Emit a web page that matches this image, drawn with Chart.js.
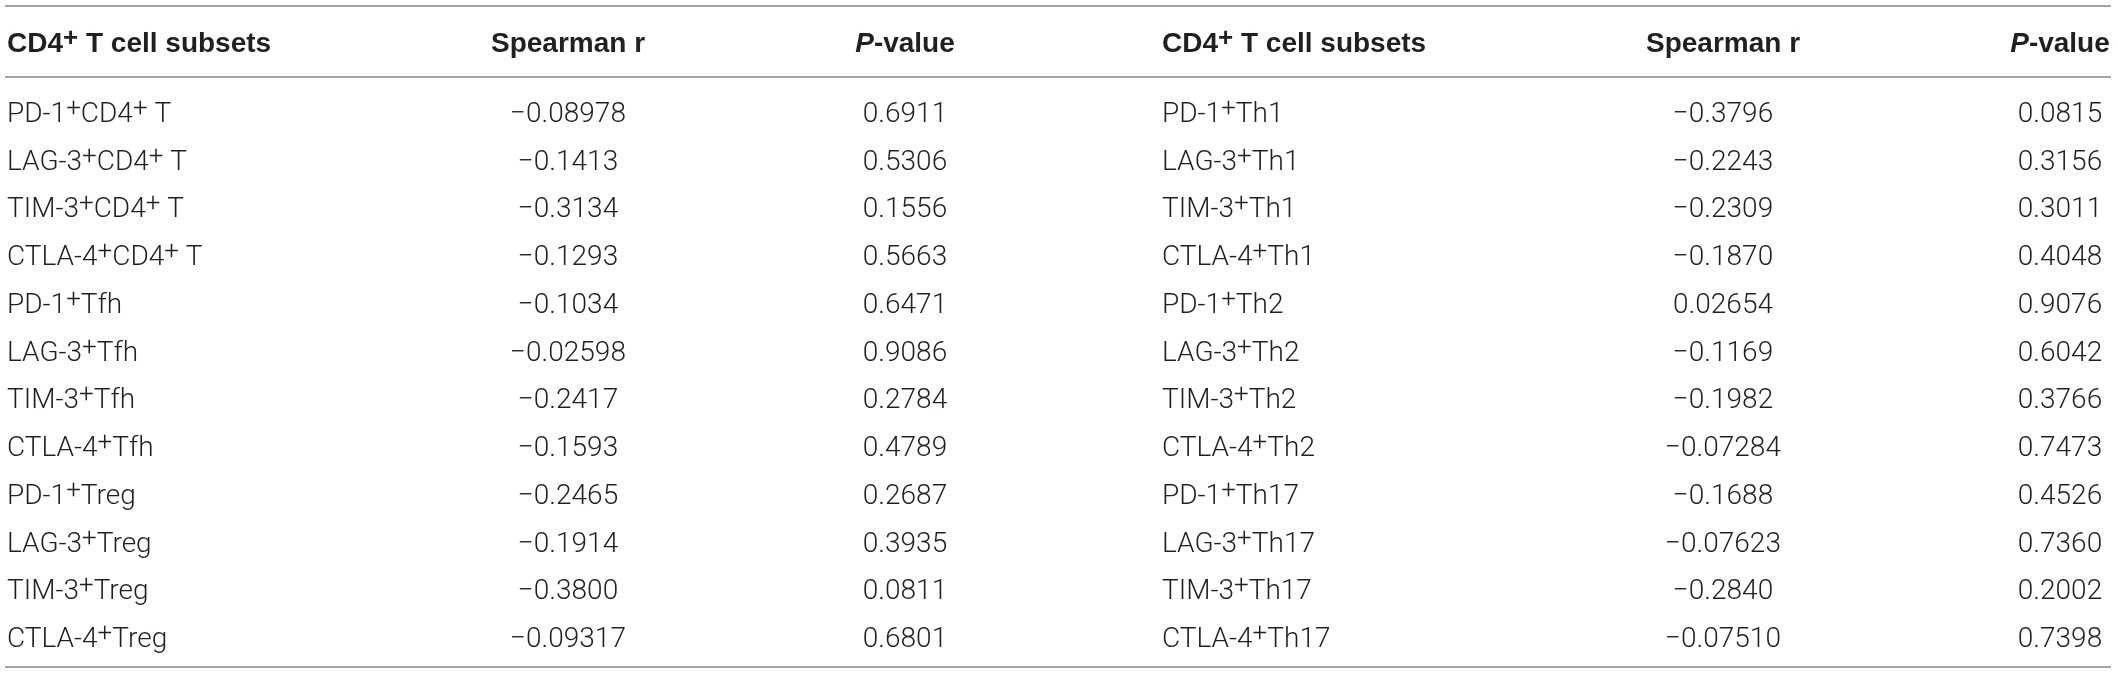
<!DOCTYPE html>
<html>
<head>
<meta charset="utf-8">
<script src="https://cdn.jsdelivr.net/npm/chart.js@4/dist/chart.umd.min.js"></script>
<style>
  html, body { margin: 0; padding: 0; background: #fff; }
  #wrap { width: 2118px; height: 674px; }
</style>
</head>
<body>
<div id="wrap"><canvas id="tabla" width="2118" height="674"></canvas></div>
<script>
// column headers (⁺ is drawn as a raised plus)
var headers = ['CD4⁺ T cell subsets', 'Spearman r', 'P-value'];

// left half of the table
var subsetsLeft = ['PD-1⁺CD4⁺ T', 'LAG-3⁺CD4⁺ T', 'TIM-3⁺CD4⁺ T', 'CTLA-4⁺CD4⁺ T',
  'PD-1⁺Tfh', 'LAG-3⁺Tfh', 'TIM-3⁺Tfh', 'CTLA-4⁺Tfh',
  'PD-1⁺Treg', 'LAG-3⁺Treg', 'TIM-3⁺Treg', 'CTLA-4⁺Treg'];
var spearmanLeft = [-0.08978, -0.1413, -0.3134, -0.1293, -0.1034, -0.02598,
  -0.2417, -0.1593, -0.2465, -0.1914, -0.3800, -0.09317];
var pLeft = [0.6911, 0.5306, 0.1556, 0.5663, 0.6471, 0.9086,
  0.2784, 0.4789, 0.2687, 0.3935, 0.0811, 0.6801];

// right half of the table
var subsetsRight = ['PD-1⁺Th1', 'LAG-3⁺Th1', 'TIM-3⁺Th1', 'CTLA-4⁺Th1',
  'PD-1⁺Th2', 'LAG-3⁺Th2', 'TIM-3⁺Th2', 'CTLA-4⁺Th2',
  'PD-1⁺Th17', 'LAG-3⁺Th17', 'TIM-3⁺Th17', 'CTLA-4⁺Th17'];
var spearmanRight = [-0.3796, -0.2243, -0.2309, -0.1870, 0.02654, -0.1169,
  -0.1982, -0.07284, -0.1688, -0.07623, -0.2840, -0.07510];
var pRight = [0.0815, 0.3156, 0.3011, 0.4048, 0.9076, 0.6042,
  0.3766, 0.7473, 0.4526, 0.7360, 0.2002, 0.7398];

// layout: where each column sits on the x scale and how it is aligned
var colAnchor = [7, 568, 905, 1162, 1723, 2060];
var colAlign  = ['left', 'center', 'center', 'left', 'center', 'center'];

var FS = 28;
var bodyFont = '300 ' + FS + 'px Roboto, "Liberation Sans", sans-serif';
var headFont = 'bold ' + FS + 'px "Liberation Sans", Arial, sans-serif';
var textColor = '#231f20';
var ruleColor = '#a3a3a3';

function fmtR(v){ return v.toPrecision(4).replace('-', '\u2212'); }
function fmtP(v){ return v.toFixed(4); }

// split a label into normal runs and raised plus signs
function runs(txt, font){
  var out = [];
  var parts = txt.split('⁺');
  for (var i = 0; i < parts.length; i++) {
    if (parts[i] !== '') out.push({ t: parts[i], font: font, dy: 0 });
    if (i < parts.length - 1) out.push({ t: '+', font: font.replace(FS + 'px', Math.round(FS * 0.92) + 'px'), dy: -FS * 0.22 });
  }
  return out;
}

function drawRuns(ctx, rs, x, y, align){
  var w = 0;
  rs.forEach(function(r){ ctx.font = r.font; r.w = ctx.measureText(r.t).width; w += r.w; });
  var sx = x;
  if (align == 'center') sx = x - w / 2;
  if (align == 'right') sx = x - w;
  ctx.textAlign = 'left';
  ctx.textBaseline = 'alphabetic';
  rs.forEach(function(r){
    ctx.font = r.font;
    ctx.fillText(r.t, sx, y + FS * 0.36 + r.dy);
    sx += r.w;
  });
}

function headRuns(h){
  if (h == 'P-value') {
    return [{ t: 'P', font: 'italic ' + headFont, dy: 0 }, { t: '-value', font: headFont, dy: 0 }];
  }
  return runs(h, headFont);
}

var tablaPlugin = {
  id: 'tabla',
  afterDraw: function(chart){
    var ctx = chart.ctx;
    var xs = chart.scales.x, ys = chart.scales.y;
    var area = chart.chartArea;
    ctx.save();

    // rules
    ctx.strokeStyle = ruleColor;
    ctx.lineWidth = 2;
    [6, area.top - 11, area.bottom + 6].forEach(function(yy){
      ctx.beginPath();
      ctx.moveTo(xs.getPixelForValue(5), yy);
      ctx.lineTo(xs.getPixelForValue(2111), yy);
      ctx.stroke();
    });

    ctx.fillStyle = textColor;

    // header row
    var hy = area.top - 46;
    for (var c = 0; c < 6; c++) {
      drawRuns(ctx, headRuns(headers[c % 3]), xs.getPixelForValue(colAnchor[c]), hy, colAlign[c]);
    }

    // body rows
    var cols = [
      subsetsLeft, spearmanLeft.map(fmtR), pLeft.map(fmtP),
      subsetsRight, spearmanRight.map(fmtR), pRight.map(fmtP)
    ];
    for (var i = 0; i < subsetsLeft.length; i++) {
      var py = ys.getPixelForValue(i);
      for (var c = 0; c < 6; c++) {
        drawRuns(ctx, runs(cols[c][i], bodyFont), xs.getPixelForValue(colAnchor[c]), py, colAlign[c]);
      }
    }
    ctx.restore();
  }
};

new Chart(document.getElementById('tabla').getContext('2d'), {
  type: 'scatter',
  data: { labels: subsetsLeft, datasets: [] },
  options: {
    responsive: false,
    animation: false,
    devicePixelRatio: 1,
    layout: { padding: { top: 88, bottom: 13, left: 0, right: 0 } },
    plugins: { legend: { display: false }, tooltip: { enabled: false } },
    scales: {
      x: { type: 'linear', min: 0, max: 2118, display: false },
      y: { type: 'category', labels: subsetsLeft, offset: true, display: false }
    }
  },
  plugins: [tablaPlugin]
});
</script>
</body>
</html>
